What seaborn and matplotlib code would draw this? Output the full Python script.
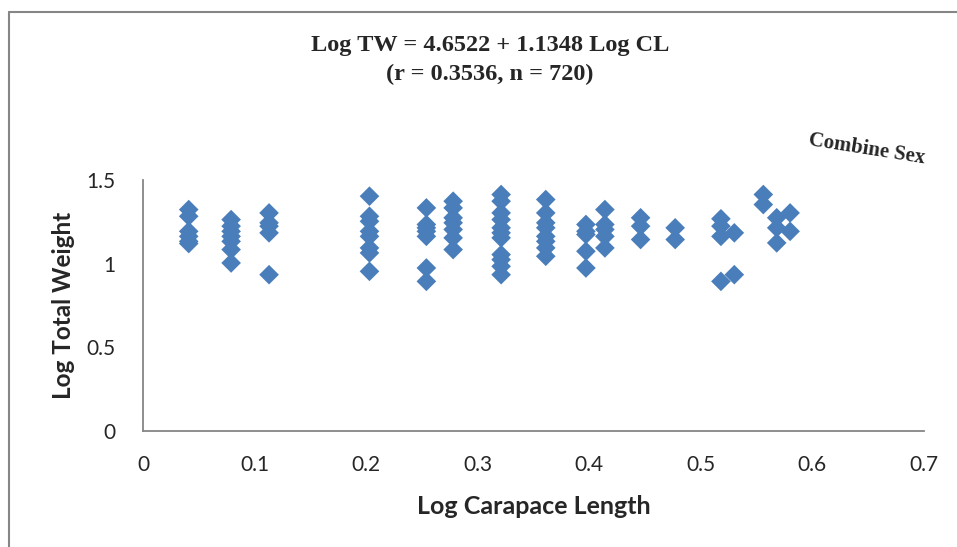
import pandas as pd
import matplotlib
matplotlib.use("Agg")
import matplotlib.pyplot as plt
import seaborn as sns
from matplotlib.lines import Line2D

# carapace length (log) for each column of points
log_cl = [0.041, 0.079, 0.113, 0.203, 0.254, 0.278, 0.321, 0.361, 0.397,
          0.414, 0.446, 0.477, 0.518, 0.530, 0.556, 0.568, 0.580]

# total weight (log) read per column
log_tw = [
    [1.323, 1.283, 1.193, 1.163, 1.133, 1.12],
    [1.263, 1.224, 1.193, 1.163, 1.133, 1.084, 1.004],
    [1.303, 1.244, 1.224, 1.184, 0.934],
    [1.403, 1.283, 1.253, 1.193, 1.163, 1.094, 1.064, 0.954],
    [1.333, 1.234, 1.214, 1.193, 1.163, 0.974, 0.894],
    [1.373, 1.333, 1.274, 1.244, 1.204, 1.154, 1.084],
    [1.413, 1.373, 1.303, 1.263, 1.214, 1.184, 1.154, 1.054, 1.024, 0.984, 0.934],
    [1.383, 1.303, 1.244, 1.214, 1.163, 1.133, 1.094, 1.044],
    [1.234, 1.193, 1.174, 1.074, 0.974],
    [1.323, 1.234, 1.204, 1.163, 1.094],
    [1.274, 1.224, 1.144],
    [1.214, 1.144],
    [1.268, 1.224, 1.163, 0.894],
    [1.184, 0.934],
    [1.413, 1.353],
    [1.274, 1.214, 1.124],
    [1.303, 1.193],
]

x_ticks = [0, 0.1, 0.2, 0.3, 0.4, 0.5, 0.6, 0.7]
y_ticks = [0, 0.5, 1, 1.5]

rows = []
for cl, tws in zip(log_cl, log_tw):
    for tw in tws:
        rows.append({"Log Carapace Length": cl, "Log Total Weight": tw})
df = pd.DataFrame(rows)

sns.set_style("white")
plt.rcParams['font.family'] = ['Lato', 'DejaVu Sans']

fig = plt.figure(figsize=(9.57, 5.47), dpi=100)
ax = fig.add_axes([0.1494, 0.2121, 0.8161, 0.4589])

sns.scatterplot(data=df, x="Log Carapace Length", y="Log Total Weight",
                marker="D", s=100, color="#4a7ebb", edgecolor="none", ax=ax)

ax.set_xlim(0, 0.7)
ax.set_ylim(0, 1.5)
ax.set_xticks(x_ticks)
ax.set_xticklabels([f"{t:g}" for t in x_ticks])
ax.set_yticks(y_ticks)
ax.set_yticklabels([f"{t:g}" for t in y_ticks])
ax.tick_params(axis='both', length=0, labelsize=15)
ax.tick_params(axis='x', pad=17)
ax.tick_params(axis='y', pad=20)

for side in ['top', 'right']:
    ax.spines[side].set_visible(False)
for side in ['left', 'bottom']:
    ax.spines[side].set_color('#868686')
    ax.spines[side].set_linewidth(1.3)

ax.set_xlabel("Log Carapace Length", fontsize=18, fontweight='bold', labelpad=15)
ax.set_ylabel("Log Total Weight", fontsize=17.5, fontweight='bold', labelpad=8)

fig.text(0.512, 0.916, "Log TW = 4.6522 + 1.1348 Log CL", ha='center', va='center',
         family='Liberation Serif', fontweight='bold', fontsize=17.5)
fig.text(0.512, 0.864, "(r = 0.3536, n = 720)", ha='center', va='center',
         family='Liberation Serif', fontweight='bold', fontsize=17.5)
fig.text(0.906, 0.728, "Combine Sex", ha='center', va='center', rotation=-9,
         family='Liberation Serif', fontweight='bold', fontsize=15)

# chart area frame (top and left edges visible)
fig.add_artist(Line2D([0.0094, 1.0], [0.978, 0.978], color='#868686', lw=1.5))
fig.add_artist(Line2D([0.0094, 0.0094], [0.0, 0.978], color='#868686', lw=1.5))

fig.savefig("out.png", dpi=100)
